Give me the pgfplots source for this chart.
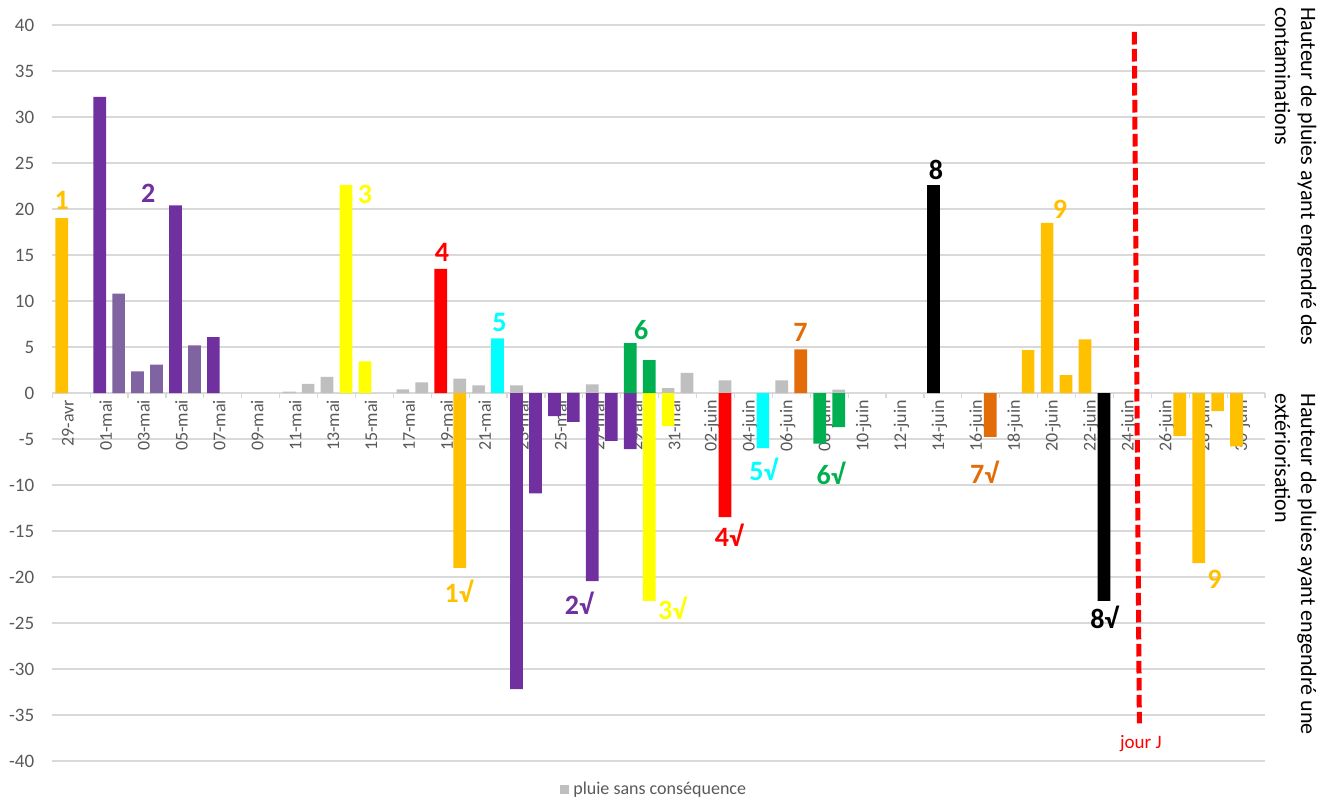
\documentclass[border=0pt]{standalone}
\usepackage{fontspec}
\setmainfont{Carlito}
\usepackage{pgfplots}
\pgfplotsset{compat=1.18}
\definecolor{cGold}{HTML}{FFC000}
\definecolor{cPurple}{HTML}{7030A0}
\definecolor{cLPurple}{HTML}{8064A2}
\definecolor{cYellow}{HTML}{FFFF00}
\definecolor{cRed}{HTML}{FF0000}
\definecolor{cCyan}{HTML}{00FFFF}
\definecolor{cGreen}{HTML}{00B050}
\definecolor{cOrange}{HTML}{E36C09}
\definecolor{cGray}{HTML}{BFBFBF}
\definecolor{cGrid}{HTML}{D9D9D9}
\definecolor{cText}{HTML}{595959}
\pgfplotsset{
  layers/labelsontop/.define layer set={axis background,axis grid,axis ticks,axis lines,pre main,main,axis tick labels,axis descriptions,axis foreground}{},
}
\begin{document}
\begin{tikzpicture}
\path (0,0) rectangle (661.5pt,400.5pt);
\begin{axis}[
  set layers=labelsontop,
  scale only axis, width=606.35pt, height=368pt,
  at={(26.15pt,20pt)}, anchor=south west,
  xmin=-0.5, xmax=63.5, ymin=-40, ymax=40,
  ybar, bar width=0.67,
  every axis plot/.append style={bar shift=0pt, draw=none},
  axis x line=middle, axis y line=left,
  x axis line style={-, draw=cGrid, line width=0.6pt},
  y axis line style={draw=none},
  hide obscured x ticks=false, hide obscured y ticks=false,
  ymajorgrids, major grid style={cGrid, line width=0.6pt},
  ytick={-40,-35,...,40},
  xtick={0,2,...,62},
  xticklabels={29-avr,01-mai,03-mai,05-mai,07-mai,09-mai,11-mai,13-mai,15-mai,17-mai,19-mai,21-mai,23-mai,25-mai,27-mai,29-mai,31-mai,02-juin,04-juin,06-juin,08-juin,10-juin,12-juin,14-juin,16-juin,18-juin,20-juin,22-juin,24-juin,26-juin,28-juin,30-juin},
  minor xtick={-0.5,1.5,...,63.5},
  major tick length=0pt, minor tick length=2.5pt, tick align=outside,
  tick style={cGrid, line width=0.6pt},
  /pgf/number format/assume math mode=true,
  xticklabel style={rotate=90, anchor=east, font=\fontsize{9}{10}\selectfont, text=cText, yshift=-3pt},
  yticklabel style={anchor=east, font=\fontsize{9.5}{10}\selectfont, text=cText, xshift=-5.5pt},
  legend style={at={(0.497,-0.039)}, anchor=center, draw=none, fill=none, font=\fontsize{9}{10}\selectfont, text=cText, inner sep=0pt},
  legend image code/.code={\path[#1] (0pt,-2.3pt) rectangle (4.7pt,2.4pt);},
]
\addplot[fill=cGray] coordinates {(12,0.15) (13,1.0) (14,1.74) (18,0.4) (19,1.16) (21,1.56) (22,0.84) (24,0.84) (27,0.1) (28,0.95) (32,0.54) (33,2.18) (35,1.38) (38,1.38) (41,0.37)};
\addlegendentry{pluie sans conséquence}
\addplot[fill=cGold, forget plot] coordinates {(0,19.0) (21,-19.0) (51,4.65) (52,18.5) (53,1.93) (54,5.84) (59,-4.68) (60,-18.5) (61,-1.96) (62,-5.8)};
\addplot[fill=cPurple, forget plot] coordinates {(2,32.2) (6,20.4) (8,6.06) (24,-32.2) (25,-10.9) (26,-2.5) (27,-3.15) (28,-20.45) (29,-5.2) (30,-6.1)};
\addplot[fill=cLPurple, forget plot] coordinates {(3,10.8) (4,2.36) (5,3.09) (7,5.19)};
\addplot[fill=cYellow, forget plot] coordinates {(15,22.6) (16,3.45) (31,-22.6) (32,-3.6)};
\addplot[fill=cRed, forget plot] coordinates {(20,13.5) (35,-13.5)};
\addplot[fill=cCyan, forget plot] coordinates {(23,5.95) (37,-5.98)};
\addplot[fill=cGreen, forget plot] coordinates {(30,5.41) (31,3.56) (40,-5.5) (41,-3.7)};
\addplot[fill=cOrange, forget plot] coordinates {(39,4.75) (49,-4.78)};
\addplot[fill=black, forget plot] coordinates {(46,22.6) (55,-22.6)};
\draw[cRed, line width=2.5pt, dash pattern=on 6.3pt off 2.2pt] (axis cs:56.6,39.25) -- (axis cs:56.87,-35.9);
\node[text=cRed, font=\fontsize{9.5}{10}\selectfont] at (axis cs:56.95,-38.1) {jour J};
\begin{scope}[every node/.style={font=\fontsize{14}{14}\selectfont\bfseries, inner sep=0pt}]
\node[text=cGold] at (axis cs:0,20.9) {1};
\node[text=cPurple] at (axis cs:4.56,21.7) {2};
\node[text=cYellow] at (axis cs:16.0,21.6) {3};
\node[text=cRed] at (axis cs:20.07,15.3) {4};
\node[text=cCyan] at (axis cs:23.1,7.7) {5};
\node[text=cGreen] at (axis cs:30.58,6.8) {6};
\node[text=cOrange] at (axis cs:38.99,6.6) {7};
\node[text=black] at (axis cs:46.13,24.2) {8};
\node[text=cGold] at (axis cs:52.68,20.0) {9};
\node[text=cGold] at (axis cs:20.95,-21.5) {1√};
\node[text=cPurple] at (axis cs:27.29,-22.85) {2√};
\node[text=cYellow] at (axis cs:32.22,-23.4) {3√};
\node[text=cRed] at (axis cs:35.21,-15.5) {4√};
\node[text=cCyan] at (axis cs:37.03,-8.3) {5√};
\node[text=cGreen] at (axis cs:40.58,-8.7) {6√};
\node[text=cOrange] at (axis cs:48.68,-8.6) {7√};
\node[text=black] at (axis cs:55.02,-24.4) {8√};
\node[text=cGold] at (axis cs:60.83,-20.3) {9};
\end{scope}
\end{axis}
\node[rotate=-90, anchor=north west, align=left, inner sep=0pt, font=\fontsize{11}{13}\selectfont] at (658.35pt,397.15pt) {Hauteur de pluies ayant engendré des\\contaminations};
\node[rotate=-90, anchor=north west, align=left, inner sep=0pt, font=\fontsize{11}{13}\selectfont] at (658.35pt,204pt) {Hauteur de pluies ayant engendré une\\extériorisation};
\end{tikzpicture}
\end{document}
